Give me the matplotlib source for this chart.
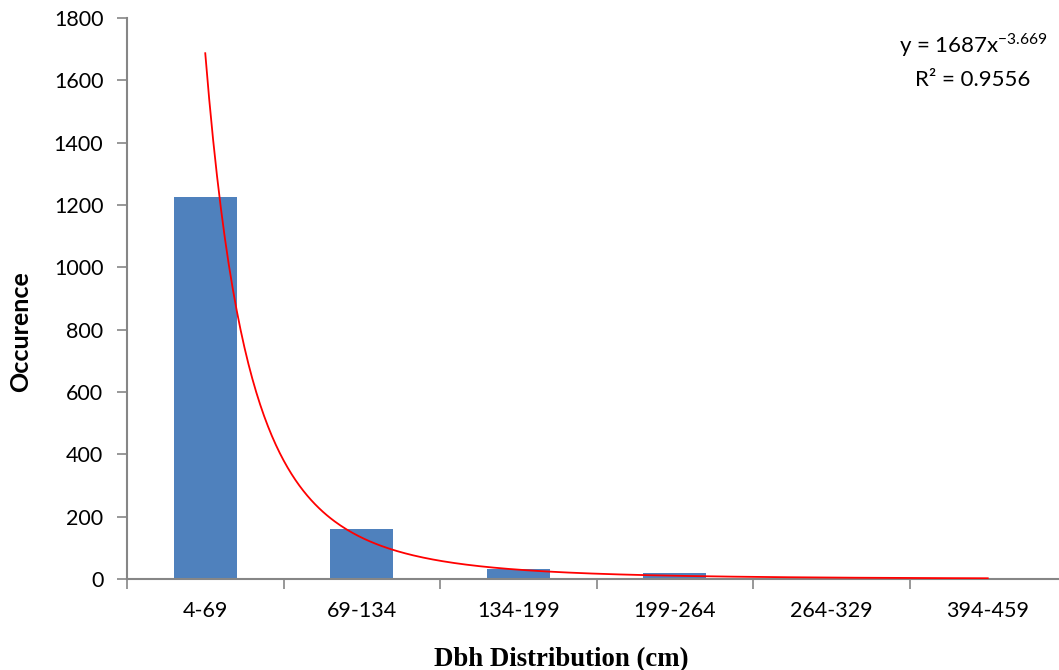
import numpy as np
import matplotlib
matplotlib.use("Agg")
import matplotlib.pyplot as plt

# data
classes = ["4-69", "69-134", "134-199", "199-264", "264-329", "394-459"]
occurence = [1226, 160, 31, 19, 5, 3]

# power trendline y = a * x^b (Excel style, x = 1..n)
fit_a = 1687
fit_b = -3.669
fit_r2 = 0.9556

plt.rcParams['font.family'] = ['Lato', 'DejaVu Sans']
axis_grey = "#868686"

fig = plt.figure(figsize=(10.59, 6.70), dpi=100)
# axis runs a little past the right edge, like the cropped original
ax = fig.add_axes([127 / 1059, 1 - 579 / 670, (1066 - 127) / 1059, (579 - 18) / 670])

x = np.arange(1, len(classes) + 1)
ax.bar(x, occurence, width=0.4, color="#4f81bd", zorder=2)

xs = np.linspace(1, len(classes), 400)
ax.plot(xs, fit_a * xs ** fit_b, color="red", linewidth=1.3, zorder=3)

ax.set_xlim(0.5, len(classes) + 0.5)
ax.set_ylim(0, 1800)
ax.set_yticks(np.arange(0, 1801, 200))
ax.set_xticks(x)
ax.set_xticklabels(classes)
ax.set_xticks(np.arange(0.5, len(classes) + 1, 1), minor=True)
ax.tick_params(axis="x", which="major", length=0, pad=16, labelsize=15.5)
ax.tick_params(axis="x", which="minor", length=7, width=1.2, color=axis_grey, direction="out")
ax.tick_params(axis="y", length=7, width=1.2, color=axis_grey, direction="out", pad=10, labelsize=15.5)

for side in ["top", "right"]:
    ax.spines[side].set_visible(False)
for side in ["left", "bottom"]:
    ax.spines[side].set_color(axis_grey)
    ax.spines[side].set_linewidth(1.5)

fig.text(21 / 1059, 1 - 332 / 670, "Occurence", rotation=90, fontsize=18,
         fontweight="bold", ha="center", va="center")
fig.text(561 / 1059, 1 - 666 / 670, "Dbh Distribution (cm)", fontsize=19.3,
         fontweight="bold", family="Liberation Serif", ha="center", va="baseline")

fig.text(973 / 1059, 1 - 45 / 670, "y = %dx$^{\\mathregular{%.3f}}$" % (fit_a, fit_b),
         fontsize=16, ha="center", va="center")
fig.text(973 / 1059, 1 - 80 / 670, "R² = %.4f" % fit_r2,
         fontsize=16, ha="center", va="center")

fig.savefig("out.png", dpi=100)
